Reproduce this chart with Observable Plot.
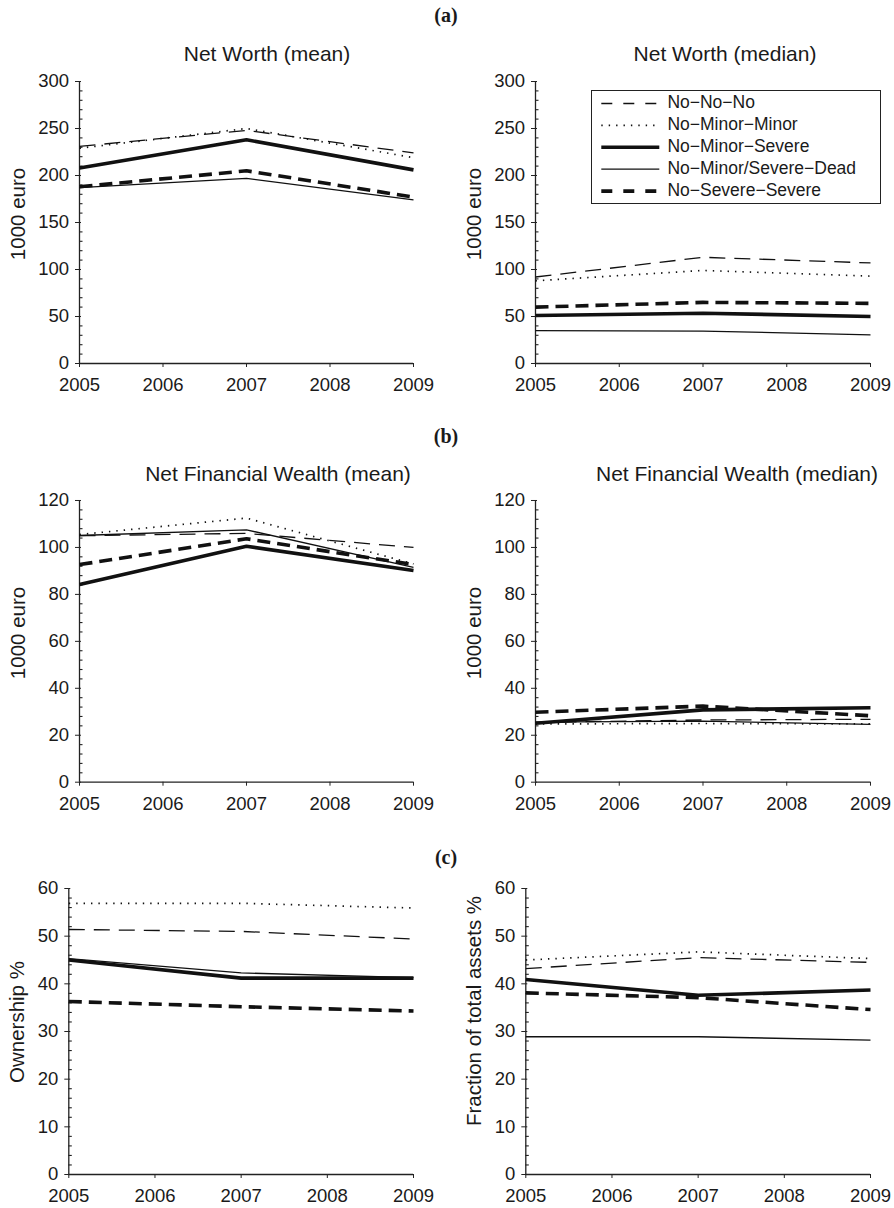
<!DOCTYPE html>
<html><head><meta charset="utf-8">
<script src="https://cdn.jsdelivr.net/npm/d3@7"></script>
<script src="https://cdn.jsdelivr.net/npm/@observablehq/plot@0.6"></script>
<style>
body{margin:0;background:#fff;}
#root{position:relative;width:894px;height:1208px;overflow:hidden;font-family:"Liberation Sans",Arial,sans-serif;color:#1a1a1a;}
.abs{position:absolute;white-space:nowrap;line-height:1;}
</style></head><body><div id="root"></div>
<script>
// ---- data ----
const years = [2005, 2007, 2009];
const xTicks = [2005, 2006, 2007, 2008, 2009];
const groups = ["No−No−No", "No−Minor−Minor", "No−Minor−Severe", "No−Minor/Severe−Dead", "No−Severe−Severe"];

// rows follow `groups`, columns follow `years`
const netWorthMean   = [[231, 248, 224], [229, 250, 219], [208, 238, 206], [187, 197, 174], [188, 205, 177]];
const netWorthMedian = [[92, 113, 107], [88, 99, 93], [51, 53.5, 50], [35, 34.5, 30.5], [60, 65, 64]];
const nfwMean        = [[105, 106, 100], [105.5, 112.5, 93], [84.2, 100.5, 90.2], [105.1, 107.5, 91.5], [92.7, 103.7, 92.7]];
const nfwMedian      = [[25.5, 26.5, 26.8], [24.8, 25.0, 24.8], [25.1, 30.8, 31.7], [25.6, 26.0, 24.6], [29.8, 32.4, 28.3]];
const ownership      = [[51.4, 51.0, 49.4], [56.9, 56.9, 55.9], [45.0, 41.2, 41.2], [45.3, 42.3, 41.3], [36.3, 35.2, 34.3]];
const fraction       = [[43.2, 45.5, 44.5], [45.0, 46.7, 45.3], [40.9, 37.6, 38.7], [28.9, 28.9, 28.2], [38.1, 37.1, 34.6]];

const yTicksA = [0, 50, 100, 150, 200, 250, 300];
const yTicksB = [0, 20, 40, 60, 80, 100, 120];
const yTicksC = [0, 10, 20, 30, 40, 50, 60];

// ---- styles ----
const ink = "#111";
const styles = [
  {w: 1.3, dash: "16,9"},
  {w: 1.7, dash: "1.4,6"},
  {w: 3.6, dash: null},
  {w: 1.3, dash: null},
  {w: 3.6, dash: "13,7"}
];
const legendDash = ["11,11", "1.4,6", null, null, "11,11"];
const drawOrder = [2, 4, 0, 1, 3];
const tickFont = 18.5;

const root = document.getElementById("root");

function addText(txt, x, y, o = {}) {
  const d = document.createElement("div");
  d.className = "abs";
  d.textContent = txt;
  d.style.left = x + "px";
  d.style.top = y + "px";
  d.style.fontSize = (o.size || 21) + "px";
  if (o.family) d.style.fontFamily = o.family;
  if (o.weight) d.style.fontWeight = o.weight;
  d.style.transform = "translate(-50%,-50%)" + (o.rotate ? " rotate(-90deg)" : "");
  root.appendChild(d);
}

function drawPanel(values, cfg) {
  const rows = [];
  groups.forEach((g, gi) => years.forEach((yr, yi) => rows.push({g, gi, year: yr, value: values[gi][yi]})));
  const mt = 12, mb = cfg.mb || 38;
  const height = cfg.y0 - cfg.yTop + mt + mb;
  const yMax = cfg.ticks[cfg.ticks.length - 1];
  const minor = d3.range(0, yMax + 1e-9, cfg.minorStep).filter(v => !cfg.ticks.includes(v));
  const lines = drawOrder.map(gi => Plot.line(rows.filter(r => r.gi === gi), {
    x: "year", y: "value", stroke: ink, strokeWidth: styles[gi].w,
    strokeDasharray: styles[gi].dash || undefined, strokeLinecap: "butt", strokeLinejoin: "miter"
  }));
  const svg = Plot.plot({
    width: 447, height,
    marginLeft: cfg.xLeft - cfg.left, marginRight: 447 - (cfg.xRight - cfg.left),
    marginTop: mt, marginBottom: mb,
    style: {fontFamily: "Liberation Sans, Arial, sans-serif", fontSize: tickFont + "px", color: "#1a1a1a", background: "transparent", overflow: "visible"},
    x: {domain: [2005, 2009]},
    y: {domain: [0, yMax]},
    marks: [
      Plot.axisX(xTicks, {tickSize: 4, tickPadding: 10.5, tickFormat: d => String(d), label: null, stroke: "#222", fontSize: tickFont}),
      Plot.axisY(cfg.ticks, {tickSize: 4, tickPadding: 6.5, tickFormat: d => String(d), label: null, stroke: "#222", fontSize: tickFont}),
      Plot.axisY(cfg.ticks, {tickSize: 2, insetLeft: 2, tickFormat: () => "", label: null, stroke: "#222"}),
      Plot.axisY(minor, {tickSize: 3.5, insetLeft: 3.5, tickFormat: () => "", label: null, stroke: "#222", strokeWidth: 1.1}),
      Plot.ruleX([2005], {stroke: "#222", strokeWidth: 1.3}),
      Plot.ruleY([0], {stroke: "#222", strokeWidth: 1.3}),
      ...lines
    ]
  });
  svg.style.position = "absolute";
  svg.style.left = cfg.left + "px";
  svg.style.top = (cfg.yTop - mt) + "px";
  root.appendChild(svg);
}

// ---- panels ----
const rowA = {yTop: 80.7, y0: 362.7};
const rowB = {yTop: 500, y0: 781.7};
const rowC = {yTop: 888.3, y0: 1174.3, mb: 32};

drawPanel(netWorthMean,   {...rowA, left: 0,   xLeft: 79,    xRight: 413, ticks: yTicksA, minorStep: 10});
drawPanel(netWorthMedian, {...rowA, left: 447, xLeft: 535,   xRight: 870, ticks: yTicksA, minorStep: 10});
drawPanel(nfwMean,        {...rowB, left: 0,   xLeft: 79,    xRight: 413, ticks: yTicksB, minorStep: 4});
drawPanel(nfwMedian,      {...rowB, left: 447, xLeft: 535,   xRight: 870, ticks: yTicksB, minorStep: 4});
drawPanel(ownership,      {...rowC, left: 0,   xLeft: 68.3,  xRight: 413, ticks: yTicksC, minorStep: 2});
drawPanel(fraction,       {...rowC, left: 447, xLeft: 525.3, xRight: 870, ticks: yTicksC, minorStep: 2});

// ---- texts ----
const serif = '"Liberation Serif","Times New Roman",serif';
addText("(a)", 446, 15, {size: 20, family: serif, weight: "bold"});
addText("(b)", 446, 436, {size: 20, family: serif, weight: "bold"});
addText("(c)", 446, 857, {size: 20, family: serif, weight: "bold"});

addText("Net Worth (mean)", 267, 53, {size: 21});
addText("Net Worth (median)", 725, 53, {size: 21});
addText("Net Financial Wealth (mean)", 278, 473, {size: 21});
addText("Net Financial Wealth (median)", 737, 473, {size: 21});

addText("1000 euro", 17.5, 214, {size: 20.5, rotate: true});
addText("1000 euro", 474, 214, {size: 20.5, rotate: true});
addText("1000 euro", 17.5, 633, {size: 20.5, rotate: true});
addText("1000 euro", 474, 633, {size: 20.5, rotate: true});
addText("Ownership %", 17, 1022, {size: 20.5, rotate: true});
addText("Fraction of total assets %", 474, 1011, {size: 20.5, rotate: true});

// ---- legend (inside Net Worth median panel) ----
const leg = document.createElement("div");
leg.className = "abs";
Object.assign(leg.style, {left: "590.7px", top: "90px", width: "290px", height: "114px", border: "1.3px solid #222", background: "#fff", boxSizing: "border-box"});
root.appendChild(leg);
const ns = "http://www.w3.org/2000/svg";
const lsvg = document.createElementNS(ns, "svg");
lsvg.setAttribute("width", 290); lsvg.setAttribute("height", 114);
lsvg.style.position = "absolute"; lsvg.style.left = "-1.3px"; lsvg.style.top = "-1.3px";
leg.appendChild(lsvg);
groups.forEach((g, i) => {
  const yy = 13.5 + i * 21.9;
  const ln = document.createElementNS(ns, "line");
  ln.setAttribute("x1", 11.3); ln.setAttribute("x2", 69.3);
  ln.setAttribute("y1", yy); ln.setAttribute("y2", yy);
  ln.setAttribute("stroke", ink);
  ln.setAttribute("stroke-width", styles[i].w);
  if (legendDash[i]) ln.setAttribute("stroke-dasharray", legendDash[i]);
  lsvg.appendChild(ln);
  const t = document.createElement("div");
  t.className = "abs";
  t.textContent = g;
  Object.assign(t.style, {left: "75.7px", top: (yy - 1.3) + "px", fontSize: "17.5px", transform: "translateY(-50%)"});
  leg.appendChild(t);
});
</script>
</body></html>
